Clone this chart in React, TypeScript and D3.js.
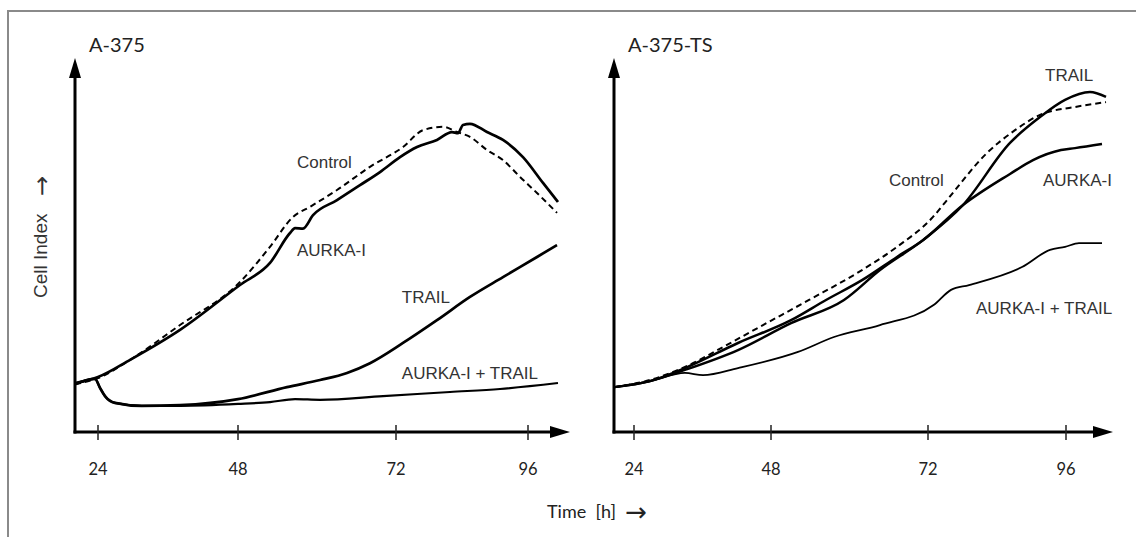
import React from 'react'
import * as d3 from 'd3'

// hours on the x axis, cell index (arbitrary units) on the y axis
const hourTicks = [24, 48, 72, 96]

// A-375 panel
const a375Control: [number, number][] = [
  [20.06, 1.28], [24, 1.44], [29.5, 1.93], [38.06, 2.86], [48.3, 4.01], [52.86, 4.95],
  [56.35, 5.75], [58.93, 6.02], [63.04, 6.47], [68.05, 7.09], [73.27, 7.62], [76.91, 8.07],
  [80.55, 8.16], [83.09, 8.02], [85.45, 7.89], [88.55, 7.54], [91.45, 7.27], [94.55, 6.82],
  [97.64, 6.39], [101.27, 5.86]
]
const a375Aurka: [number, number][] = [
  [20.06, 1.31], [24, 1.47], [29.5, 1.93], [38.06, 2.73], [48.3, 3.93], [52.86, 4.52],
  [55.9, 5.32], [56.66, 5.45], [57.87, 5.44], [59.4, 5.8], [63.04, 6.2], [66.53, 6.6],
  [69.57, 6.95], [72.73, 7.35], [75.82, 7.62], [79.45, 7.81], [82.18, 8.02], [83.27, 7.99],
  [84.18, 8.21], [85.45, 8.24], [88.55, 8.02], [91.45, 7.81], [95.09, 7.35], [98.73, 6.66],
  [101.45, 6.15]
]
const a375Trail: [number, number][] = [
  [20.06, 1.28], [23.49, 1.42], [24.34, 1.18], [25.2, 0.96], [26.9, 0.78], [31.5, 0.7],
  [38.06, 0.72], [48, 0.88], [55.44, 1.2], [60.46, 1.39], [64.56, 1.58], [68.05, 1.84],
  [73.27, 2.38], [79.45, 2.99], [85.45, 3.61], [91.45, 4.14], [97.64, 4.68], [101.27, 5.0]
]
const a375Combo: [number, number][] = [
  [20.06, 1.28], [23.49, 1.42], [24.34, 1.18], [25.2, 0.96], [26.9, 0.78], [31.5, 0.7],
  [38.06, 0.7], [48, 0.75], [52.86, 0.8], [56.66, 0.88], [60.46, 0.86], [70.03, 0.96],
  [81.82, 1.07], [90.91, 1.15], [101.45, 1.31]
]

// A-375-TS panel
const tsControl: [number, number][] = [
  [20.58, 1.2], [26.8, 1.39], [32.93, 1.74], [40.29, 2.33], [46.6, 2.86], [53.81, 3.53],
  [61.91, 4.33], [67.26, 4.95], [72.87, 5.75], [75.3, 6.2], [82.26, 7.46], [87.13, 8.07],
  [91.48, 8.48], [97.57, 8.69], [102.96, 8.82]
]
const tsAurka: [number, number][] = [
  [20.58, 1.2], [26.8, 1.36], [32.93, 1.71], [42.22, 2.38], [51.06, 2.99], [56.41, 3.53],
  [61.91, 4.06], [67.26, 4.68], [71.23, 5.13], [78.09, 6.07], [86.26, 6.9],
  [90.26, 7.27], [95.13, 7.54], [97.57, 7.59], [102.26, 7.7]
]
const tsTrail: [number, number][] = [
  [20.58, 1.2], [26.8, 1.36], [32.93, 1.66], [42.22, 2.19], [51.06, 2.91], [59.16, 3.53],
  [64.66, 4.33], [71.23, 5.13], [78.09, 6.07], [86.26, 7.73],
  [91.48, 8.42], [95.83, 8.88], [100.17, 9.09], [102.96, 8.96]
]
const tsCombo: [number, number][] = [
  [20.58, 1.2], [26.8, 1.36], [32.93, 1.58], [36.09, 1.52], [42.22, 1.71], [52.13, 2.14],
  [57.63, 2.54], [64.66, 2.86], [73.04, 3.4], [76.0, 3.8], [79.13, 3.93], [88.35, 4.41],
  [93.22, 4.87], [95.83, 4.95], [98.26, 5.05], [102.26, 5.05]
]

// curve labels anchored in data space: [hour, cell index]
const a375Labels: { text: string; at: [number, number] }[] = [
  { text: 'Control', at: [56.96, 7.07] },
  { text: 'AURKA-I', at: [56.96, 4.71] },
  { text: 'TRAIL', at: [73.06, 3.46] },
  { text: 'AURKA-I + TRAIL', at: [73.06, 1.42] }
]
const tsLabels: { text: string; at: [number, number] }[] = [
  { text: 'Control', at: [66.04, 6.58] },
  { text: 'TRAIL', at: [92.35, 9.39] },
  { text: 'AURKA-I', at: [92.0, 6.58] },
  { text: 'AURKA-I + TRAIL', at: [80.35, 3.16] }
]

const W = 1136
const H = 537
const axisY = 432
const topY = 58

const yScale = d3.scaleLinear().domain([0, 10]).range([axisY, topY])

const labelFont = '"Liberation Sans", Arial, sans-serif'
const tickFont = 'Lato, "Open Sans", sans-serif'
const arrowFont = '"Noto Sans", "DejaVu Sans", sans-serif'

function Panel({ title, x0, x1, tickPx, series, labels }: any) {
  // tick spacing on the original figure is not even, so map hour ticks piecewise
  const xScale = d3.scaleLinear().domain(hourTicks).range(tickPx)
  const line = d3.line<[number, number]>()
    .x(d => xScale(d[0]))
    .y(d => yScale(d[1]))
    .curve(d3.curveMonotoneX)

  return (
    <g>
      <text x={x0 + 14} y={topY - 6} fontFamily={tickFont} fontSize={20} fill="#222">{title}</text>
      {/* y axis */}
      <line x1={x0} y1={axisY + 1.5} x2={x0} y2={topY + 16} stroke="#000" strokeWidth={3} />
      <path d={`M${x0},${topY} L${x0 - 6},${topY + 20} L${x0 + 6},${topY + 20} Z`} fill="#000" />
      {/* x axis */}
      <line x1={x0 - 1.5} y1={axisY} x2={x1 - 16} y2={axisY} stroke="#000" strokeWidth={3} />
      <path d={`M${x1},${axisY} L${x1 - 20},${axisY - 6} L${x1 - 20},${axisY + 6} Z`} fill="#000" />
      {hourTicks.map(h => (
        <g key={h}>
          <line x1={xScale(h)} x2={xScale(h)} y1={axisY - 7} y2={axisY + 8} stroke="#222" strokeWidth={1.5} />
          <text x={xScale(h)} y={axisY + 43} textAnchor="middle" fontFamily={tickFont} fontSize={16.5} fill="#222">{h}</text>
        </g>
      ))}
      {series.map((s: any, i: number) => (
        <path key={i} d={line(s.data) || ''} fill="none" stroke="#000"
          strokeWidth={s.width} strokeDasharray={s.dash || undefined} strokeLinejoin="round" />
      ))}
      {labels.map((l: any) => (
        <text key={l.text} x={xScale(l.at[0])} y={yScale(l.at[1])} fontFamily={labelFont}
          fontSize={17} fill="#333">{l.text}</text>
      ))}
    </g>
  )
}

export default function App() {
  const leftSeries = [
    { data: a375Combo, width: 2.2 },
    { data: a375Trail, width: 2.7 },
    { data: a375Control, width: 2, dash: '6,4' },
    { data: a375Aurka, width: 2.7 }
  ]
  const rightSeries = [
    { data: tsCombo, width: 1.8 },
    { data: tsTrail, width: 2.5 },
    { data: tsControl, width: 2, dash: '6,4' },
    { data: tsAurka, width: 2.5 }
  ]
  return (
    <svg width={W} height={H} style={{ position: 'absolute', left: 0, top: 0, background: '#fff' }}>
      <rect x={8} y={11} width={W + 20} height={H + 20} fill="none" stroke="#8a8a8a" strokeWidth={2} />
      <Panel title="A-375" x0={75} x1={570} tickPx={[98, 238, 396, 528]}
        series={leftSeries} labels={a375Labels} />
      <Panel title="A-375-TS" x0={614} x1={1113} tickPx={[634, 771, 928, 1066]}
        series={rightSeries} labels={tsLabels} />
      <text transform="translate(47,298) rotate(-90)" fontFamily={labelFont}
        fontSize={19} fill="#333">Cell Index</text>
      <text transform="translate(50,186) rotate(-90)" textAnchor="middle" fontFamily={arrowFont}
        fontSize={24} fill="#333">→</text>
      <text x={547} y={518} fontFamily={tickFont} fontSize={18} fill="#222"
        style={{ whiteSpace: 'pre' }}>Time  [h]  <tspan fontFamily={arrowFont} fontSize={26} dy={3}>→</tspan></text>
    </svg>
  )
}
